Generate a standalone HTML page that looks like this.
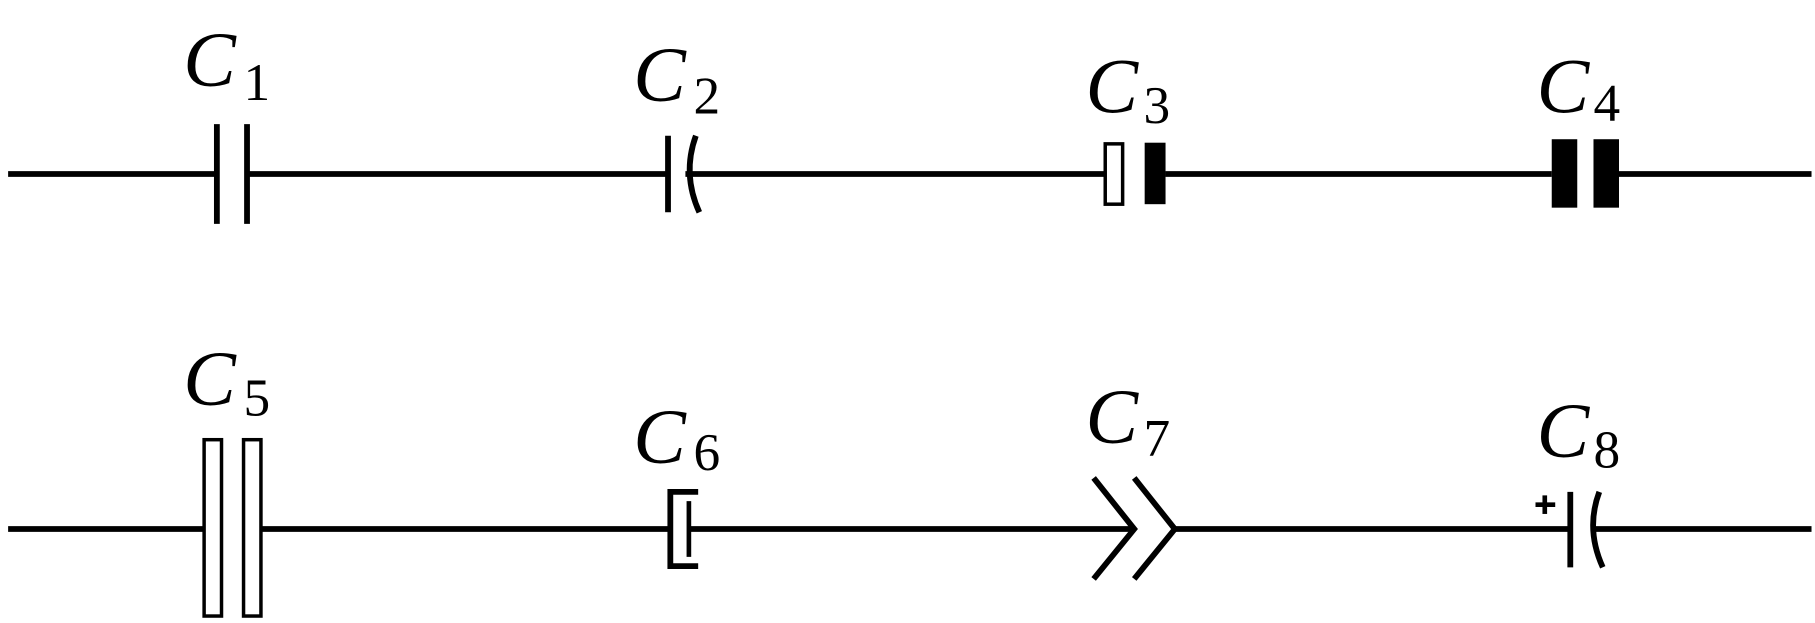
<!DOCTYPE html>
<html><head><meta charset="utf-8"><style>
html,body{margin:0;padding:0;background:#fff;}
svg{display:block;}
text{font-family:"Liberation Serif",serif;fill:#000;}
.c{font-style:italic;font-size:68px;}
.s{font-size:46px;}
</style></head><body>
<svg width="1815" height="623" viewBox="0 0 1565 537" preserveAspectRatio="none" xmlns="http://www.w3.org/2000/svg">
<g stroke="#000" stroke-width="5" fill="none">
<line x1="7" y1="150" x2="187" y2="150"/>
<line x1="213" y1="150" x2="576" y2="150"/>
<line x1="591" y1="150" x2="952" y2="150"/>
<line x1="1005" y1="150" x2="1338" y2="150"/>
<line x1="1396" y1="150" x2="1562" y2="150"/>
<line x1="187" y1="107" x2="187" y2="193"/>
<line x1="213" y1="107" x2="213" y2="193"/>
<line x1="576" y1="117" x2="576" y2="183"/>
<path d="M600 117 Q588 150 603 183"/>
<rect x="953" y="124" width="15" height="52" stroke-width="3"/>
<rect x="987" y="123" width="18" height="53" fill="#000" stroke="none"/>
<rect x="1338" y="120" width="22" height="59" fill="#000" stroke="none"/>
<rect x="1374" y="120" width="22" height="59" fill="#000" stroke="none"/>
<line x1="7" y1="456" x2="176" y2="456"/>
<line x1="225" y1="456" x2="578" y2="456"/>
<line x1="594" y1="456" x2="978" y2="456"/>
<line x1="1013" y1="456" x2="1354" y2="456"/>
<line x1="1372" y1="456" x2="1562" y2="456"/>
<rect x="176" y="379" width="15" height="152" stroke-width="3"/>
<rect x="210" y="379" width="15" height="152" stroke-width="3"/>
<path d="M602 424 H578 V488 H602"/>
<line x1="594" y1="432" x2="594" y2="480" stroke-width="4"/>
<path d="M943 412 L978 456 L943 499"/>
<path d="M978 412 L1013 456 L978 499"/>
<line x1="1354" y1="424" x2="1354" y2="489"/>
<path d="M1379 424 Q1367 456 1382 489"/>
<line x1="1324" y1="435" x2="1341" y2="435" stroke-width="4"/>
<line x1="1332" y1="427" x2="1332" y2="443" stroke-width="4"/>
</g>
<text class="c" x="158" y="74">C</text><text class="s" x="210" y="86">1</text>
<text class="c" x="546" y="87">C</text><text class="s" x="598" y="98">2</text>
<text class="c" x="936" y="97">C</text><text class="s" x="986" y="106">3</text>
<text class="c" x="1325" y="97">C</text><text class="s" x="1374" y="104">4</text>
<text class="c" x="158" y="349">C</text><text class="s" x="210" y="358">5</text>
<text class="c" x="546" y="399">C</text><text class="s" x="598" y="405">6</text>
<text class="c" x="936" y="382">C</text><text class="s" x="986" y="393">7</text>
<text class="c" x="1325" y="394">C</text><text class="s" x="1374" y="403">8</text>
</svg>
</body></html>
